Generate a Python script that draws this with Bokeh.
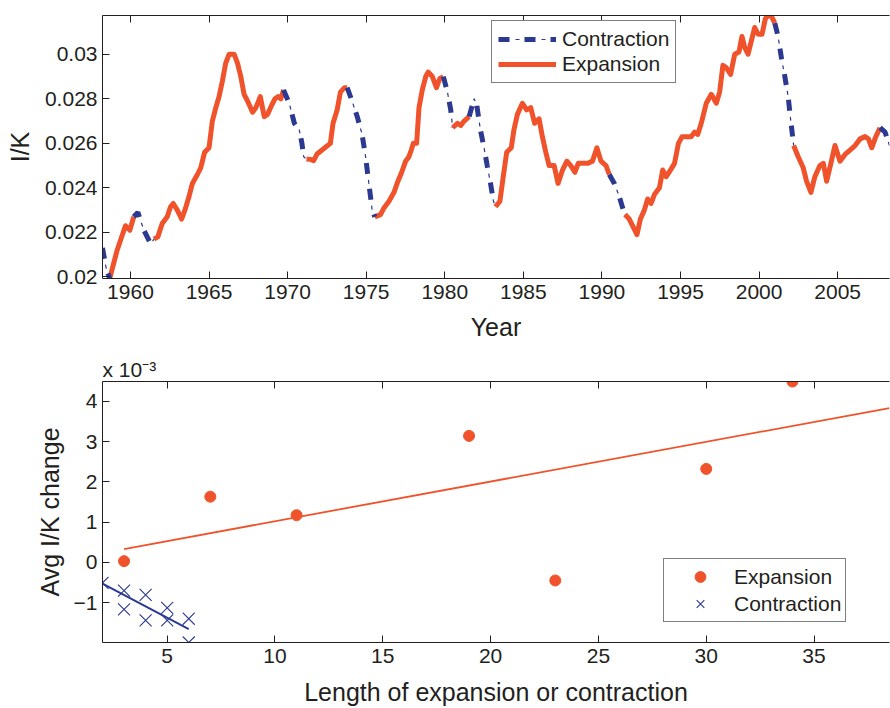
from bokeh.plotting import figure
from bokeh.layouts import column
from bokeh.models import (Range1d, LinearAxis, FixedTicker, CustomJSTickFormatter,
                          Legend, LegendItem, Title)
from bokeh.embed import file_html
from bokeh.resources import INLINE

# ---------------- data: I/K over time ----------------
years = [1958.22, 1958.45, 1958.68, 1959.15, 1959.68, 1959.96, 1960.21, 1960.47, 1960.85,
         1961.28, 1961.5, 1961.74, 1962.02, 1962.34, 1962.55, 1962.72, 1962.98, 1963.26,
         1963.51, 1963.72, 1963.94, 1964.26, 1964.47, 1964.72, 1965.0, 1965.21, 1965.43,
         1965.64, 1965.85, 1966.06, 1966.28, 1966.6, 1966.81, 1967.02, 1967.23, 1967.45,
         1967.77, 1967.98, 1968.26, 1968.51, 1968.72, 1968.98, 1969.19, 1969.4, 1969.57,
         1969.74, 1970.1, 1970.43, 1970.74, 1970.91, 1971.02, 1971.2, 1971.45, 1971.66,
         1971.87, 1972.19, 1972.51, 1972.72, 1972.89, 1973.15, 1973.36, 1973.62, 1973.79,
         1974.1, 1974.43, 1974.74, 1974.96, 1975.17, 1975.38, 1975.55, 1975.91, 1976.13,
         1976.45, 1976.77, 1977.02, 1977.26, 1977.51, 1977.72, 1977.87, 1978.0, 1978.21,
         1978.36, 1978.57, 1978.79, 1978.94, 1979.21, 1979.47, 1979.68, 1979.91, 1980.17,
         1980.38, 1980.5, 1980.81, 1981.02, 1981.23, 1981.55, 1981.87, 1982.04, 1982.27,
         1982.5, 1982.7, 1982.91, 1983.1, 1983.23, 1983.51, 1983.72, 1983.94, 1984.23,
         1984.4, 1984.62, 1984.94, 1985.21, 1985.47, 1985.72, 1986.0, 1986.21, 1986.43,
         1986.64, 1986.96, 1987.21, 1987.49, 1987.77, 1988.02, 1988.28, 1988.49, 1988.77,
         1989.09, 1989.4, 1989.68, 1989.94, 1990.26, 1990.47, 1990.79, 1991.11, 1991.32,
         1991.47, 1991.74, 1992.02, 1992.23, 1992.45, 1992.7, 1992.91, 1993.13, 1993.34,
         1993.66, 1993.87, 1994.09, 1994.36, 1994.62, 1994.87, 1995.1, 1995.68, 1995.89,
         1996.1, 1996.32, 1996.64, 1996.96, 1997.28, 1997.49, 1997.7, 1997.91, 1998.19,
         1998.45, 1998.72, 1998.91, 1999.09, 1999.3, 1999.51, 1999.72, 1999.94, 2000.19,
         2000.4, 2000.57, 2000.79, 2001.0, 2001.21, 2001.43, 2001.64, 2001.85, 2002.02,
         2002.2, 2002.49, 2002.81, 2003.02, 2003.3, 2003.55, 2003.87, 2004.09, 2004.3,
         2004.57, 2004.83, 2005.15, 2005.47, 2005.79, 2006.11, 2006.43, 2006.74, 2006.96,
         2007.17, 2007.43, 2007.7, 2008.02, 2008.3]
ik = [0.0213, 0.0204, 0.01993, 0.0212, 0.0223, 0.0221, 0.0227, 0.0229, 0.0221,
      0.0215, 0.0217, 0.0218, 0.0224, 0.0227, 0.02315, 0.0233, 0.0230, 0.0226,
      0.0231, 0.0236, 0.0242, 0.0246, 0.0249, 0.0256, 0.0258, 0.0270, 0.0276,
      0.0281, 0.0288, 0.0296, 0.0300, 0.0300, 0.0296, 0.0290, 0.0282, 0.0279,
      0.0274, 0.0276, 0.0281, 0.0272, 0.0273, 0.0277, 0.0280, 0.0281, 0.0280,
      0.0284, 0.0278, 0.0269, 0.0266, 0.0260, 0.0254, 0.0253, 0.02528, 0.02522,
      0.02552, 0.0257, 0.02588, 0.0260, 0.0269, 0.0275, 0.0283, 0.0285, 0.0285,
      0.0279, 0.0272, 0.0264, 0.0254, 0.0242, 0.0230, 0.0227, 0.0228, 0.0231,
      0.0234, 0.0238, 0.0243, 0.0247, 0.0252, 0.0254, 0.0257, 0.0260, 0.0260,
      0.0276, 0.0284, 0.0290, 0.0292, 0.0290, 0.0285, 0.0289, 0.0290, 0.0283,
      0.0275, 0.0267, 0.0269, 0.0268, 0.0270, 0.0272, 0.0280, 0.0277, 0.0266,
      0.0258, 0.0250, 0.0242, 0.0234, 0.02315, 0.0234, 0.0245, 0.0256, 0.0258,
      0.0266, 0.0273, 0.0278, 0.0275, 0.0276, 0.0269, 0.0271, 0.0263, 0.0256,
      0.0250, 0.0250, 0.0242, 0.0248, 0.0252, 0.0250, 0.0247, 0.0251, 0.0251,
      0.0251, 0.0252, 0.0258, 0.0252, 0.0250, 0.0246, 0.0242, 0.0236, 0.0231,
      0.0228, 0.0226, 0.0222, 0.0219, 0.0226, 0.0230, 0.0235, 0.0233, 0.0237,
      0.0240, 0.0248, 0.0245, 0.0248, 0.0251, 0.0260, 0.0263, 0.0263, 0.0265,
      0.0264, 0.0269, 0.0278, 0.0282, 0.0278, 0.0283, 0.0295, 0.0294, 0.0291,
      0.0300, 0.0301, 0.0308, 0.0303, 0.0300, 0.0306, 0.0312, 0.0309, 0.0309,
      0.0316, 0.03174, 0.0317, 0.0314, 0.0308, 0.0298, 0.0290, 0.0281, 0.0270,
      0.0259, 0.0254, 0.0249, 0.0243, 0.0238, 0.0245, 0.0250, 0.0251, 0.0243,
      0.0251, 0.0259, 0.0252, 0.0255, 0.0257, 0.0259, 0.0262, 0.0263, 0.0262,
      0.0258, 0.0263, 0.0267, 0.0265, 0.0259]
contraction_periods = [(1958.22, 1958.68), (1960.21, 1961.5), (1969.74, 1971.2),
                       (1973.79, 1975.55), (1979.91, 1980.5), (1981.55, 1983.23),
                       (1990.47, 1991.47), (2001.0, 2002.2), (2007.7, 2008.3)]
year_ticks = [1960, 1965, 1970, 1975, 1980, 1985, 1990, 1995, 2000, 2005]
ik_ticks = [0.02, 0.022, 0.024, 0.026, 0.028, 0.03]

# ---------------- data: length vs average change ----------------
exp_length = [3, 7, 11, 19, 23, 30, 34]
exp_change = [0.03e-3, 1.63e-3, 1.17e-3, 3.14e-3, -0.45e-3, 2.32e-3, 4.49e-3]
con_length = [2, 3, 3, 4, 4, 5, 5, 6, 6]
con_change = [-0.51e-3, -0.70e-3, -1.17e-3, -0.81e-3, -1.44e-3, -1.13e-3, -1.44e-3,
              -1.40e-3, -1.99e-3]
exp_fit_x = [3, 38.5]
exp_fit_y = [0.33e-3, 3.83e-3]
con_fit_x = [2, 6]
con_fit_y = [-0.53e-3, -1.66e-3]
len_ticks = [5, 10, 15, 20, 25, 30, 35]
chg_ticks = [-1e-3, 0, 1e-3, 2e-3, 3e-3, 4e-3]
scale_note = "x 10\u207b\u00b3"

ORANGE = "#F0532B"
BLUE = "#2B3990"
TXT = "#231F20"
FONT = "Liberation Sans"


def split_segments(xs, ys, periods):
    cx, cy, ex, ey = [], [], [], []
    for a, b in periods:
        idx = [i for i, x in enumerate(xs) if a - 1e-9 <= x <= b + 1e-9]
        cx.append([xs[i] for i in idx]); cy.append([ys[i] for i in idx])
    for (a0, b0), (a1, b1) in zip(periods[:-1], periods[1:]):
        idx = [i for i, x in enumerate(xs) if b0 - 1e-9 <= x <= a1 + 1e-9]
        ex.append([xs[i] for i in idx]); ey.append([ys[i] for i in idx])
    return cx, cy, ex, ey


def style_axis(ax, font_size="21px"):
    ax.major_tick_in = 7
    ax.major_tick_out = 0
    ax.minor_tick_in = 0
    ax.minor_tick_out = 0
    ax.axis_line_color = TXT
    ax.major_tick_line_color = TXT
    ax.major_label_text_font = FONT
    ax.major_label_text_font_size = font_size
    ax.major_label_text_color = TXT
    ax.axis_label_text_font = FONT
    ax.axis_label_text_font_size = "25px"
    ax.axis_label_text_font_style = "normal"
    ax.axis_label_text_color = TXT


def add_top_ticks(p, ticks):
    ax = LinearAxis(ticker=FixedTicker(ticks=ticks))
    style_axis(ax, "0px")
    ax.major_label_standoff = 0
    ax.major_label_text_alpha = 0
    p.add_layout(ax, "above")


# ---------------- top figure ----------------
p1 = figure(width=890, height=350, output_backend="svg", toolbar_location=None,
            x_range=Range1d(1958.22, 2008.3), y_range=Range1d(0.01993, 0.03174),
            min_border_left=102, min_border_right=1, min_border_top=15, min_border_bottom=72,
            outline_line_color=None, background_fill_color="white", border_fill_color="white")
p1.xgrid.visible = False
p1.ygrid.visible = False

cx, cy, ex, ey = split_segments(years, ik, contraction_periods)
r_exp = p1.multi_line(ex, ey, line_color=ORANGE, line_width=5, line_join="round")
r_con_thick = p1.multi_line(cx, cy, line_color=BLUE, line_width=5, line_dash="11 15")
r_con_thin = p1.multi_line(cx, cy, line_color=BLUE, line_width=1.2, line_dash="4 22",
                           line_dash_offset=9)

p1.xaxis.ticker = FixedTicker(ticks=year_ticks)
p1.yaxis.ticker = FixedTicker(ticks=ik_ticks)
p1.yaxis.formatter = CustomJSTickFormatter(code="return String(Number(tick.toFixed(3)));")
style_axis(p1.xaxis[0]); style_axis(p1.yaxis[0])
p1.xaxis.axis_label = "Year"
p1.yaxis.axis_label = "I/K"
p1.xaxis.major_label_standoff = 6
p1.xaxis.axis_label_standoff = 11
p1.yaxis.major_label_standoff = 5
p1.yaxis.axis_label_standoff = 8
add_top_ticks(p1, year_ticks)

leg1 = Legend(items=[LegendItem(label="Contraction", renderers=[r_con_thick, r_con_thin]),
                     LegendItem(label="Expansion", renderers=[r_exp])],
              location=(389, 195), padding=6, spacing=1, glyph_width=58, glyph_height=24,
              label_height=24, label_standoff=6, label_text_font=FONT,
              label_text_font_size="21px", label_text_color=TXT,
              border_line_color="#000000", border_line_width=1, background_fill_alpha=1,
              margin=0)
p1.add_layout(leg1)

# ---------------- bottom figure ----------------
p2 = figure(width=890, height=358, output_backend="svg", toolbar_location=None,
            x_range=Range1d(2, 38.5), y_range=Range1d(-1.99e-3, 4.49e-3),
            min_border_left=102, min_border_right=1, min_border_top=31, min_border_bottom=64,
            outline_line_color=None, background_fill_color="white", border_fill_color="white")
p2.xgrid.visible = False
p2.ygrid.visible = False

p2.line(exp_fit_x, exp_fit_y, line_color=ORANGE, line_width=1.8)
p2.line(con_fit_x, con_fit_y, line_color=BLUE, line_width=2)
r_es = p2.scatter(exp_length, exp_change, marker="circle", size=11, fill_color=ORANGE,
                  line_color=ORANGE)
r_cs = p2.scatter(con_length, con_change, marker="x", size=17, line_color=BLUE, line_width=1.1)

p2.xaxis.ticker = FixedTicker(ticks=len_ticks)
p2.yaxis.ticker = FixedTicker(ticks=chg_ticks)
p2.yaxis.formatter = CustomJSTickFormatter(
    code="var v = Math.round(tick*1000); return v < 0 ? '\u2212' + Math.abs(v) : String(v);")
style_axis(p2.xaxis[0]); style_axis(p2.yaxis[0])
p2.xaxis.axis_label = "Length of expansion or contraction"
p2.yaxis.axis_label = "Avg I/K change"
p2.xaxis.major_label_standoff = 6
p2.xaxis.axis_label_standoff = 12
p2.yaxis.major_label_standoff = 5
p2.yaxis.axis_label_standoff = 7
add_top_ticks(p2, len_ticks)

p2.add_layout(Title(text=scale_note, align="left", offset=0, standoff=1,
                    text_font=FONT, text_font_size="21px", text_font_style="normal",
                    text_color=TXT), "above")

leg2 = Legend(items=[LegendItem(label="Expansion", renderers=[r_es]),
                     LegendItem(label="Contraction", renderers=[r_cs])],
              location=(561, 20), padding=4, spacing=0, glyph_width=64, glyph_height=27,
              label_height=27, label_standoff=2, label_text_font=FONT,
              label_text_font_size="21px", label_text_color=TXT,
              border_line_color="#000000", border_line_width=1, background_fill_alpha=1,
              margin=0)
p2.add_layout(leg2)

layout = column(p1, p2, spacing=0)
open("out.html", "w").write(file_html(layout, INLINE))
